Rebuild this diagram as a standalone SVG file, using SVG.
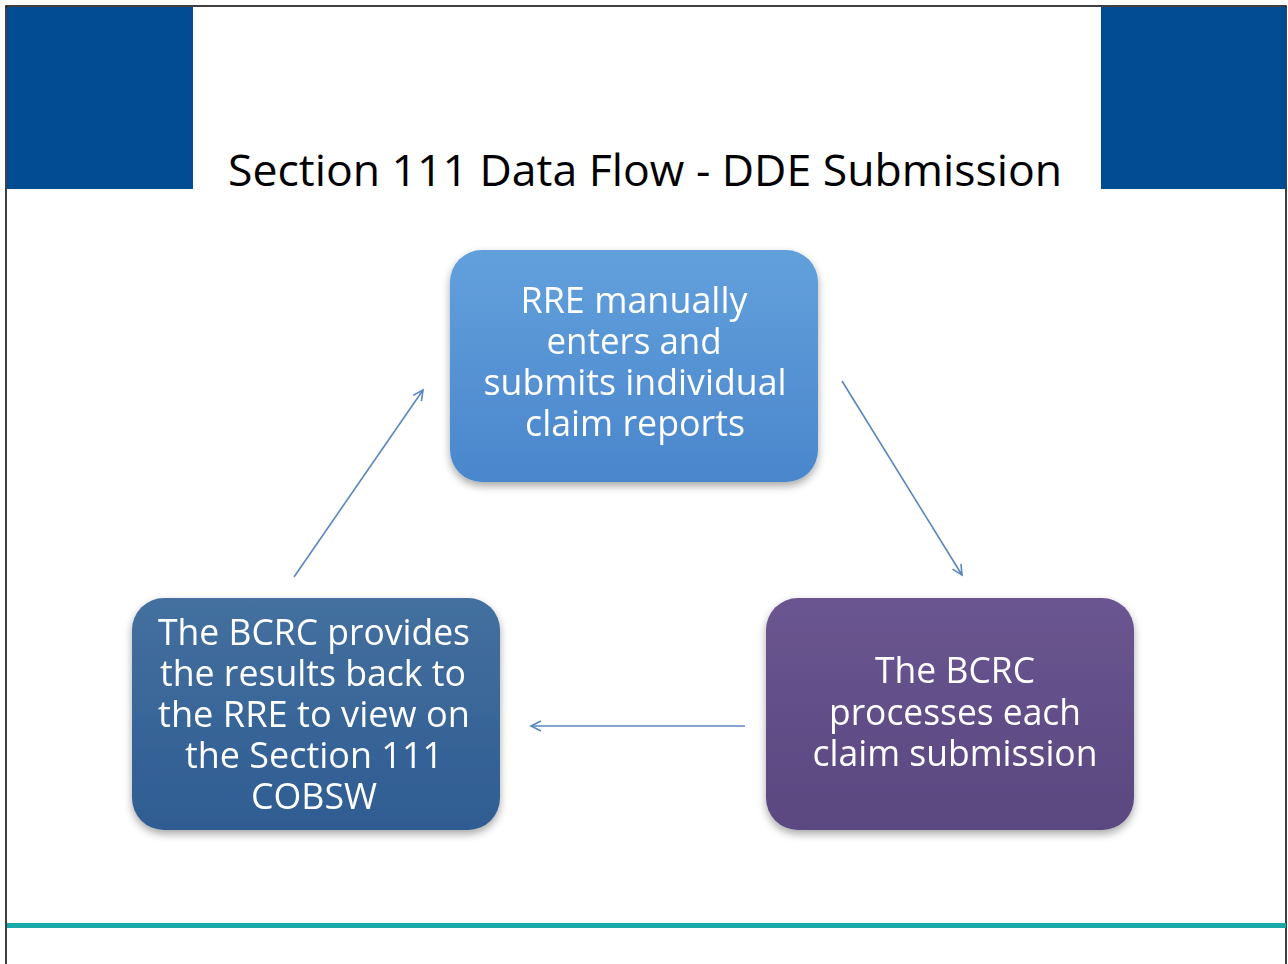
<svg xmlns="http://www.w3.org/2000/svg" width="1288" height="964" viewBox="0 0 1288 964">
<style>
.t{font-family:"Open Sans","Liberation Sans",sans-serif;font-size:36px;fill:#ffffff;text-anchor:middle}
.title{font-family:"Open Sans","Liberation Sans",sans-serif;font-size:44px;fill:#000000}
.conn{stroke:#5a86c0;stroke-width:1.6;fill:none;marker-end:url(#ah)}
</style>
<defs>
<marker id="ah" markerWidth="14" markerHeight="14" refX="12" refY="7" orient="auto" markerUnits="userSpaceOnUse">
<path d="M2,2 L12,7 L2,12" fill="none" stroke="#5a86c0" stroke-width="1.6"/>
</marker>
<linearGradient id="g1" x1="0" y1="0" x2="0" y2="1">
<stop offset="0" stop-color="#62a0dc"/><stop offset="1" stop-color="#4a86cc"/>
</linearGradient>
<linearGradient id="g2" x1="0" y1="0" x2="0" y2="1">
<stop offset="0" stop-color="#44709f"/><stop offset="1" stop-color="#2f5c92"/>
</linearGradient>
<linearGradient id="g3" x1="0" y1="0" x2="0" y2="1">
<stop offset="0" stop-color="#6a5590"/><stop offset="1" stop-color="#5a4880"/>
</linearGradient>
<filter id="sh" x="-10%" y="-10%" width="120%" height="130%">
<feGaussianBlur in="SourceAlpha" stdDeviation="4"/>
<feOffset dx="0" dy="4" result="b"/>
<feComponentTransfer><feFuncA type="linear" slope="0.35"/></feComponentTransfer>
<feMerge><feMergeNode/><feMergeNode in="SourceGraphic"/></feMerge>
</filter>
</defs>
<rect x="0" y="0" width="1288" height="964" fill="#ffffff"/>
<rect x="6" y="6" width="1280" height="970" fill="none" stroke="#000000" stroke-width="1.5"/>
<rect x="7" y="7" width="186" height="182" fill="#024c93"/>
<rect x="1101" y="7" width="185" height="182" fill="#024c93"/>
<text class="title" x="228" y="186" textLength="834" lengthAdjust="spacingAndGlyphs">Section 111 Data Flow - DDE Submission</text>
<rect x="7" y="923" width="1279" height="5" fill="#1aa9a9"/>
<g id="connectors">
<line class="conn" x1="294" y1="577" x2="423" y2="390"/>
<line class="conn" x1="842" y1="381" x2="962" y2="575"/>
<line class="conn" x1="745" y1="726" x2="531" y2="726"/>
</g>
<g id="node-rre" filter="url(#sh)">
<rect x="450" y="250" width="368" height="232" rx="32" fill="url(#g1)"/>
<text class="t" x="634" y="313" textLength="227" lengthAdjust="spacingAndGlyphs">RRE manually</text>
<text class="t" x="634" y="354" textLength="175" lengthAdjust="spacingAndGlyphs">enters and</text>
<text class="t" x="635" y="395" textLength="303" lengthAdjust="spacingAndGlyphs">submits individual</text>
<text class="t" x="635" y="436" textLength="220" lengthAdjust="spacingAndGlyphs">claim reports</text>
</g>
<g id="node-results" filter="url(#sh)">
<rect x="132" y="598" width="368" height="232" rx="32" fill="url(#g2)"/>
<text class="t" x="314" y="645" textLength="312" lengthAdjust="spacingAndGlyphs">The BCRC provides</text>
<text class="t" x="313" y="686" textLength="306" lengthAdjust="spacingAndGlyphs">the results back to</text>
<text class="t" x="314" y="727" textLength="312" lengthAdjust="spacingAndGlyphs">the RRE to view on</text>
<text class="t" x="314" y="768" textLength="258" lengthAdjust="spacingAndGlyphs">the Section 111</text>
<text class="t" x="314" y="809" textLength="126" lengthAdjust="spacingAndGlyphs">COBSW</text>
</g>
<g id="node-process" filter="url(#sh)">
<rect x="766" y="598" width="368" height="232" rx="32" fill="url(#g3)"/>
<text class="t" x="955" y="683" textLength="160" lengthAdjust="spacingAndGlyphs">The BCRC</text>
<text class="t" x="955" y="725" textLength="252" lengthAdjust="spacingAndGlyphs">processes each</text>
<text class="t" x="955" y="766" textLength="285" lengthAdjust="spacingAndGlyphs">claim submission</text>
</g>
</svg>
